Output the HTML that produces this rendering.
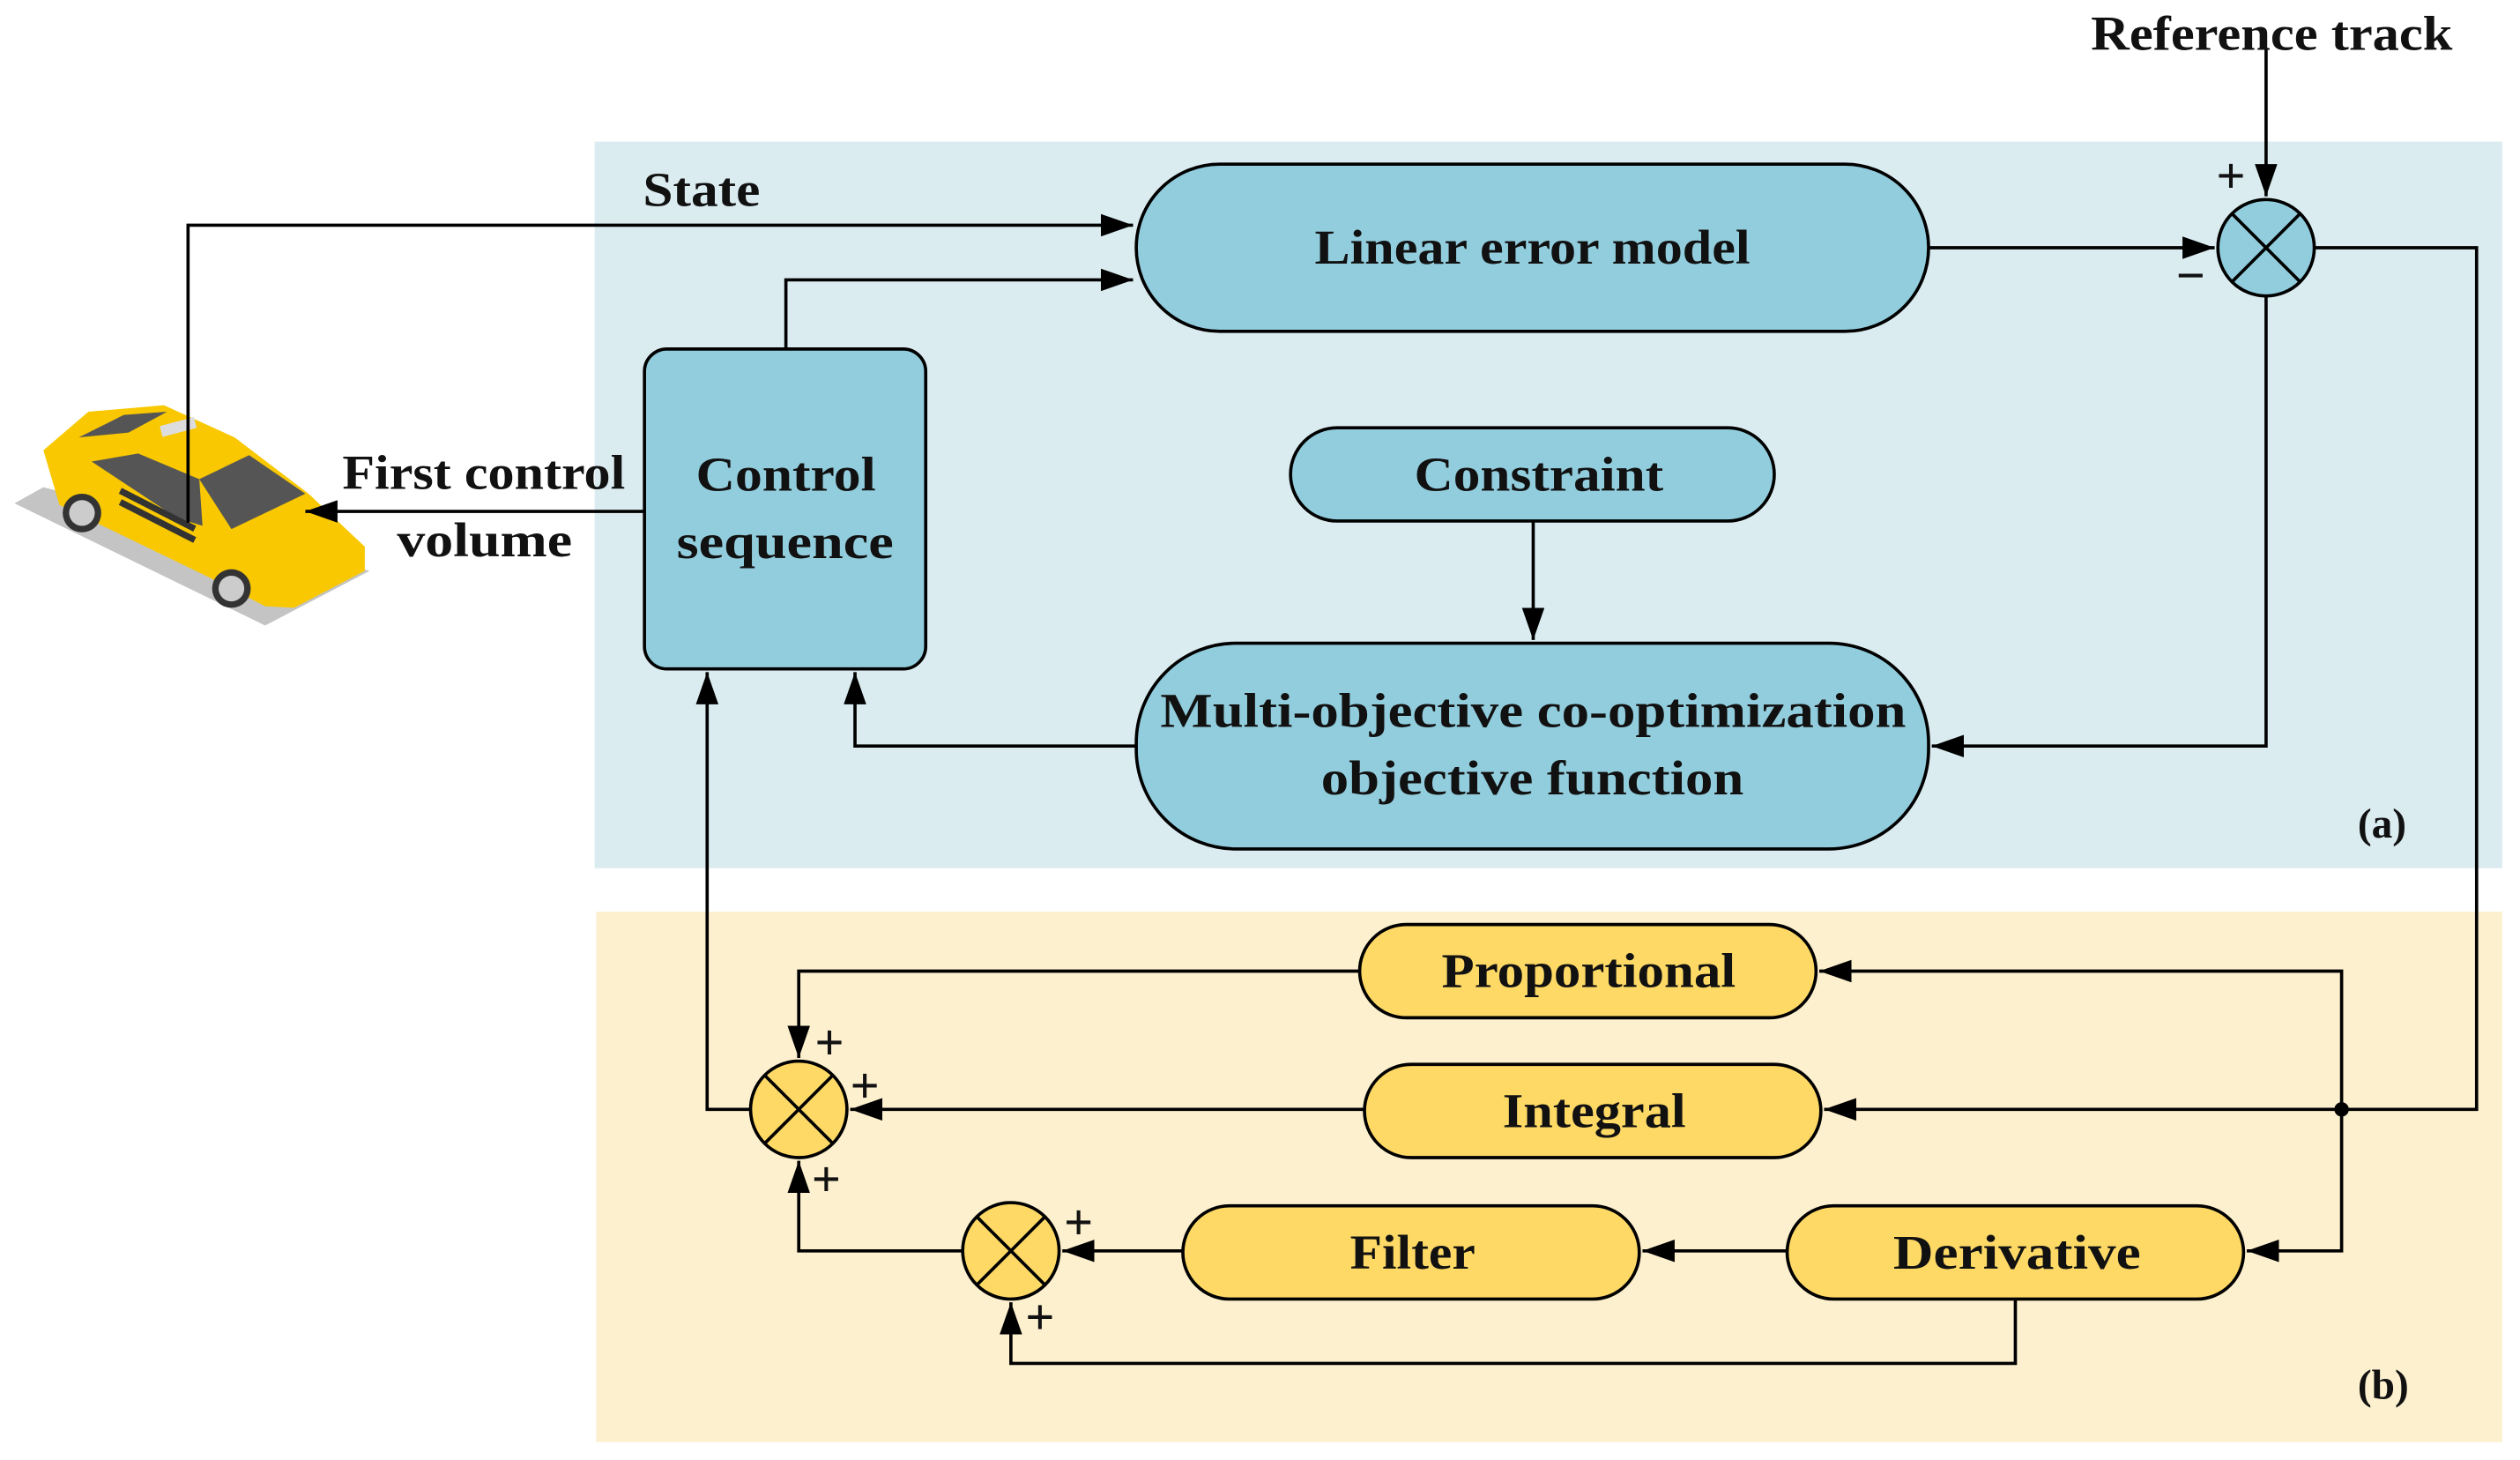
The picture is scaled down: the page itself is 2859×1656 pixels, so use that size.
<!DOCTYPE html>
<html><head><meta charset="utf-8"><style>
html,body{margin:0;padding:0;background:#fff;}
svg{display:block;}
text{font-family:"Liberation Serif",serif;font-weight:bold;fill:#111;}
</style></head><body>
<svg width="2859" height="1656" viewBox="0 0 1568 908" xmlns="http://www.w3.org/2000/svg">
<defs>
<marker id="b" viewBox="0 0 10 10" refX="10" refY="5" markerWidth="20" markerHeight="14" markerUnits="userSpaceOnUse" orient="auto" preserveAspectRatio="none"><path d="M0,0 L10,5 L0,10 z" fill="#000"/></marker>
</defs>
<rect x="370" y="88" width="1187" height="452" fill="#dbecf1"/>
<rect x="371" y="567" width="1186" height="330" fill="#fdf0cf"/>

<!-- car -->
<polygon points="9,313 27,303 230,355 165,389" fill="#c4c4c4"/>
<polygon points="27,280 55,256 102,252 146,272 192,307 227,340 227,355 183,378 165,377 128,358 37,314" fill="#f9c800"/>
<polygon points="49,272 77,258 104,256 80,269" fill="#555"/>
<polygon points="57,287 86,282 124,298 126,327 110,322" fill="#555"/>
<polygon points="124,298 155,283 190,307 144,329" fill="#555"/>
<rect x="100" y="262" width="22" height="7" fill="#ddd" transform="rotate(-15 111 266)"/>
<g fill="#333">
<rect x="72" y="315" width="52" height="4" transform="rotate(27 98 317)"/>
<rect x="72" y="322" width="52" height="4" transform="rotate(27 98 324)"/>
</g>
<circle cx="51" cy="319" r="12" fill="#333"/><circle cx="51" cy="319" r="8" fill="#ccc"/>
<circle cx="144" cy="366" r="12" fill="#333"/><circle cx="144" cy="366" r="8" fill="#ccc"/>

<g stroke="#000" stroke-width="2" fill="none">
<rect x="707" y="102" width="493" height="104" rx="52" fill="#92cddd"/>
<rect x="401" y="217" width="175" height="199" rx="14" fill="#92cddd"/>
<rect x="803" y="266" width="301" height="58" rx="29" fill="#92cddd"/>
<rect x="707" y="400" width="493" height="128" rx="62" fill="#92cddd"/>
<circle cx="1410" cy="154" r="30" fill="#92cddd"/>
<path d="M1389,133 L1431,175 M1431,133 L1389,175"/>
<rect x="846" y="575" width="284" height="58" rx="29" fill="#fed966"/>
<rect x="849" y="662" width="284" height="58" rx="29" fill="#fed966"/>
<rect x="736" y="750" width="284" height="58" rx="29" fill="#fed966"/>
<rect x="1112" y="750" width="284" height="58" rx="29" fill="#fed966"/>
<circle cx="497" cy="690" r="30" fill="#fed966"/>
<path d="M476,669 L518,711 M518,669 L476,711"/>
<circle cx="629" cy="778" r="30" fill="#fed966"/>
<path d="M608,757 L650,799 M650,757 L608,799"/>

<polyline points="117,325 117,140 705,140" marker-end="url(#b)"/>
<polyline points="489,217 489,174 705,174" marker-end="url(#b)"/>
<polyline points="1200,154 1378,154" marker-end="url(#b)"/>
<polyline points="1410,30 1410,122" marker-end="url(#b)"/>
<polyline points="1440,154 1541,154 1541,690 1135,690" marker-end="url(#b)"/>
<polyline points="1457,690 1457,604 1132,604" marker-end="url(#b)"/>
<polyline points="1457,690 1457,778 1398,778" marker-end="url(#b)"/>
<polyline points="1410,184 1410,464 1202,464" marker-end="url(#b)"/>
<polyline points="954,324 954,398" marker-end="url(#b)"/>
<polyline points="707,464 532,464 532,418" marker-end="url(#b)"/>
<polyline points="401,318 190,318" marker-end="url(#b)"/>
<polyline points="846,604 497,604 497,658" marker-end="url(#b)"/>
<polyline points="849,690 529,690" marker-end="url(#b)"/>
<polyline points="467,690 440,690 440,418" marker-end="url(#b)"/>
<polyline points="736,778 661,778" marker-end="url(#b)"/>
<polyline points="1112,778 1022,778" marker-end="url(#b)"/>
<polyline points="1254,808 1254,848 629,848 629,810" marker-end="url(#b)"/>
<polyline points="599,778 497,778 497,722" marker-end="url(#b)"/>
</g>
<circle cx="1457" cy="690" r="4.5" fill="#000"/>

<g font-size="30">
<text x="818" y="164" textLength="271" lengthAdjust="spacingAndGlyphs">Linear error model</text>
<text x="433" y="305" textLength="112" lengthAdjust="spacingAndGlyphs">Control</text>
<text x="421" y="347" textLength="135" lengthAdjust="spacingAndGlyphs">sequence</text>
<text x="880" y="305" textLength="155" lengthAdjust="spacingAndGlyphs">Constraint</text>
<text x="722" y="452" textLength="464" lengthAdjust="spacingAndGlyphs">Multi-objective co-optimization</text>
<text x="822" y="494" textLength="263" lengthAdjust="spacingAndGlyphs">objective function</text>
<text x="897" y="614" textLength="183" lengthAdjust="spacingAndGlyphs">Proportional</text>
<text x="935" y="701" textLength="114" lengthAdjust="spacingAndGlyphs">Integral</text>
<text x="840" y="789" textLength="78" lengthAdjust="spacingAndGlyphs">Filter</text>
<text x="1178" y="789" textLength="154" lengthAdjust="spacingAndGlyphs">Derivative</text>
<text x="213" y="304" textLength="176" lengthAdjust="spacingAndGlyphs">First control</text>
<text x="247" y="346" textLength="109" lengthAdjust="spacingAndGlyphs">volume</text>
<text x="400" y="128" textLength="73" lengthAdjust="spacingAndGlyphs">State</text>
<text x="1301" y="31" textLength="225" lengthAdjust="spacingAndGlyphs">Reference track</text>
</g>
<g font-size="26">
<text x="1467" y="521">(a)</text>
<text x="1467" y="870">(b)</text>
</g>
<g font-size="32">
<text x="1379" y="120">+</text>
<text x="1354" y="182">−</text>
<text x="507" y="659">+</text>
<text x="529" y="686">+</text>
<text x="505" y="744">+</text>
<text x="662" y="771">+</text>
<text x="638" y="830">+</text>
</g>
</svg>
</body></html>
